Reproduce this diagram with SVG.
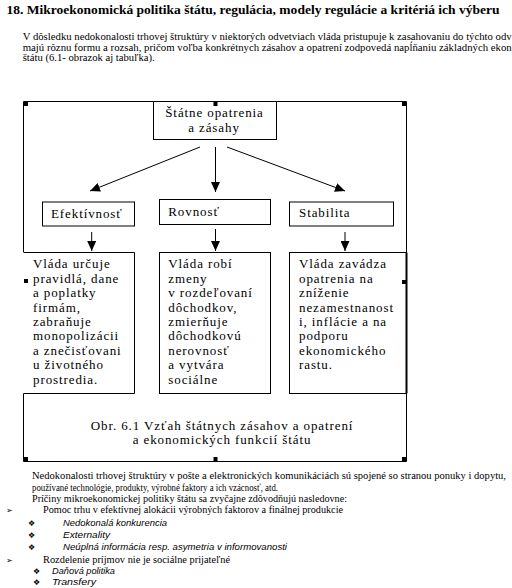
<svg xmlns="http://www.w3.org/2000/svg" width="512" height="588" viewBox="0 0 512 588">
<defs>
<style>
.bg{fill:#fff}
.ln{fill:none;stroke:#000;stroke-width:1}
.box{fill:#fff;stroke:#000;stroke-width:1}
.dt{font-family:'Liberation Serif','DejaVu Serif','Times New Roman',serif;font-size:13px;letter-spacing:0.9px;fill:#000}
.pt{font-family:'Liberation Serif','DejaVu Serif','Times New Roman',serif;font-size:10px;fill:#000}
.it{font-family:'Liberation Sans',Arial,sans-serif;font-size:9px;font-style:italic;fill:#000}
.bu{font-family:'DejaVu Sans',sans-serif;font-size:8px;fill:#000}
.ttl{font-family:'Liberation Serif','DejaVu Serif','Times New Roman',serif;font-size:12.5px;font-weight:bold;fill:#000}
.hd{fill:#000}
</style>
<marker id="ah" markerUnits="userSpaceOnUse" markerWidth="10" markerHeight="9" refX="10" refY="4.5" orient="auto">
<path d="M0,0 L10,4.5 L0,9 z" fill="#000"/>
</marker>
</defs>
<rect class="bg" x="0" y="0" width="512" height="588"/>

<g id="page-text">
<text class="ttl" x="6.5" y="14" textLength="493" lengthAdjust="spacingAndGlyphs">18. Mikroekonomická politika štátu, regulácia, modely regulácie a kritériá ich výberu</text>
<text class="pt" x="22.7" y="40" textLength="489" lengthAdjust="spacingAndGlyphs">V dôsledku nedokonalosti trhovej štruktúry v niektorých odvetviach vláda pristupuje k zasahovaniu do týchto odv</text>
<text class="pt" x="22.7" y="50.5" textLength="489" lengthAdjust="spacingAndGlyphs">majú rôznu formu a rozsah, pričom voľba konkrétnych zásahov a opatrení zodpovedá napĺňaniu základných ekon</text>
<text class="pt" x="22.7" y="61" textLength="132" lengthAdjust="spacingAndGlyphs">štátu (6.1- obrazok aj tabuľka).</text>

<text class="pt" x="32" y="479" textLength="474" lengthAdjust="spacingAndGlyphs">Nedokonalosti trhovej štruktúry v pošte a elektronických komunikáciách sú spojené so stranou ponuky i dopytu,</text>
<text class="pt" x="32" y="490.5" textLength="246" lengthAdjust="spacingAndGlyphs">používané technológie, produkty, výrobné faktory a ich vzácnosť, atd.</text>
<text class="pt" x="32" y="501.5" textLength="315" lengthAdjust="spacingAndGlyphs">Príčiny mikroekonomickej politiky štátu sa zvyčajne zdôvodňujú nasledovne:</text>
<text class="bu" x="6" y="513">➢</text>
<text class="pt" x="43" y="513" textLength="300" lengthAdjust="spacingAndGlyphs">Pomoc trhu v efektívnej alokácii výrobných faktorov a finálnej produkcie</text>
<text class="bu" x="28" y="525.5">❖</text>
<text class="it" x="63" y="525.5" textLength="104" lengthAdjust="spacingAndGlyphs">Nedokonalá konkurencia</text>
<text class="bu" x="28" y="538">❖</text>
<text class="it" x="63" y="538" textLength="47" lengthAdjust="spacingAndGlyphs">Externality</text>
<text class="bu" x="28" y="550">❖</text>
<text class="it" x="63" y="550" textLength="224" lengthAdjust="spacingAndGlyphs">Neúplná informácia resp. asymetria v informovanosti</text>
<text class="bu" x="6" y="562.5">➢</text>
<text class="pt" x="43" y="562.5" textLength="187" lengthAdjust="spacingAndGlyphs">Rozdelenie príjmov nie je sociálne prijateľné</text>
<text class="bu" x="33" y="574">❖</text>
<text class="it" x="52" y="574" textLength="63" lengthAdjust="spacingAndGlyphs">Daňová politika</text>
<text class="bu" x="33" y="585">❖</text>
<text class="it" x="52" y="585" textLength="44" lengthAdjust="spacingAndGlyphs">Transfery</text>
</g>

<g id="frame">
<path class="ln" d="M23.5,252 L23.5,101.5 L406.5,101.5 L406.5,461.5 L23.5,461.5 L23.5,393"/>
</g>

<g id="node-top">
<rect class="box" x="153.5" y="101.5" width="123" height="38"/>
<text class="dt" x="214.5" y="116.7" text-anchor="middle">Štátne opatrenia</text>
<text class="dt" x="214" y="131.7" text-anchor="middle">a zásahy</text>
</g>

<g id="node-efektivnost">
<rect class="box" x="42.5" y="202" width="92" height="24"/>
<text class="dt" x="51" y="217.7">Efektívnosť</text>
</g>

<g id="node-rovnost">
<rect class="box" x="159.5" y="199.5" width="111" height="25"/>
<text class="dt" x="168.3" y="216">Rovnosť</text>
</g>

<g id="node-stabilita">
<rect class="box" x="289.5" y="202" width="104" height="24"/>
<text class="dt" x="299" y="216.7">Stabilita</text>
</g>

<g id="node-text-left">
<rect class="bg" x="20" y="252" width="114.5" height="141.5"/>
<path class="ln" d="M23.5,252.5 L134.5,252.5 L134.5,393.5 L23.5,393.5"/>
<text class="dt" x="33" y="268.3">
<tspan x="33" dy="0">Vláda určuje</tspan>
<tspan x="33" dy="14.4">pravidlá, dane</tspan>
<tspan x="33" dy="14.4">a poplatky</tspan>
<tspan x="33" dy="14.4">firmám,</tspan>
<tspan x="33" dy="14.4">zabraňuje</tspan>
<tspan x="33" dy="14.4">monopolizácii</tspan>
<tspan x="33" dy="14.4">a znečisťovani</tspan>
<tspan x="33" dy="14.4">u životného</tspan>
<tspan x="33" dy="14.4">prostredia.</tspan>
</text>
</g>

<g id="node-text-mid">
<rect class="box" x="159.5" y="252.5" width="111" height="141"/>
<text class="dt" x="168.3" y="268.3">
<tspan x="168.3" dy="0">Vláda robí</tspan>
<tspan x="168.3" dy="14.4">zmeny</tspan>
<tspan x="168.3" dy="14.4">v rozdeľovaní</tspan>
<tspan x="168.3" dy="14.4">dôchodkov,</tspan>
<tspan x="168.3" dy="14.4">zmierňuje</tspan>
<tspan x="168.3" dy="14.4">dôchodkovú</tspan>
<tspan x="168.3" dy="14.4">nerovnosť</tspan>
<tspan x="168.3" dy="14.4">a vytvára</tspan>
<tspan x="168.3" dy="14.4">sociálne</tspan>
</text>
</g>

<g id="node-text-right">
<rect class="box" x="289.5" y="252.5" width="117" height="141"/>
<line x1="406.5" y1="252.5" x2="406.5" y2="393.5" stroke="#000" stroke-width="2"/>
<text class="dt" x="299" y="268.3">
<tspan x="299" dy="0">Vláda zavádza</tspan>
<tspan x="299" dy="14.4">opatrenia na</tspan>
<tspan x="299" dy="14.4">zníženie</tspan>
<tspan x="299" dy="14.4">nezamestnanost</tspan>
<tspan x="299" dy="14.4">i, inflácie a na</tspan>
<tspan x="299" dy="14.4">podporu</tspan>
<tspan x="299" dy="14.4">ekonomického</tspan>
<tspan x="299" dy="14.4">rastu.</tspan>
</text>
</g>

<g id="node-caption">
<text class="dt" x="222" y="430" text-anchor="middle">Obr. 6.1 Vzťah štátnych zásahov a opatrení</text>
<text class="dt" x="222" y="444" text-anchor="middle">a ekonomických funkcií štátu</text>
</g>

<g id="connectors">
<line class="ln" x1="200" y1="147" x2="90" y2="191" marker-end="url(#ah)"/>
<line class="ln" x1="215.5" y1="147" x2="215.5" y2="192" marker-end="url(#ah)"/>
<line class="ln" x1="227" y1="147" x2="345" y2="191" marker-end="url(#ah)"/>
<line class="ln" x1="91.7" y1="232" x2="91.7" y2="251" marker-end="url(#ah)"/>
<line class="ln" x1="215.5" y1="229" x2="215.5" y2="251" marker-end="url(#ah)"/>
<line class="ln" x1="345" y1="232" x2="345" y2="251" marker-end="url(#ah)"/>
</g>

<g id="handles">
<rect class="hd" x="24" y="102" width="4" height="4"/>
<rect class="hd" x="213.5" y="102" width="4" height="4"/>
<rect class="hd" x="402" y="102" width="4" height="4"/>
<rect class="hd" x="24" y="279" width="4" height="4"/>
<rect class="hd" x="402" y="280" width="4" height="4"/>
<rect class="hd" x="24" y="457" width="4" height="4"/>
<rect class="hd" x="213.5" y="457" width="4" height="4"/>
<rect class="hd" x="402" y="457" width="4" height="4"/>
</g>
</svg>
